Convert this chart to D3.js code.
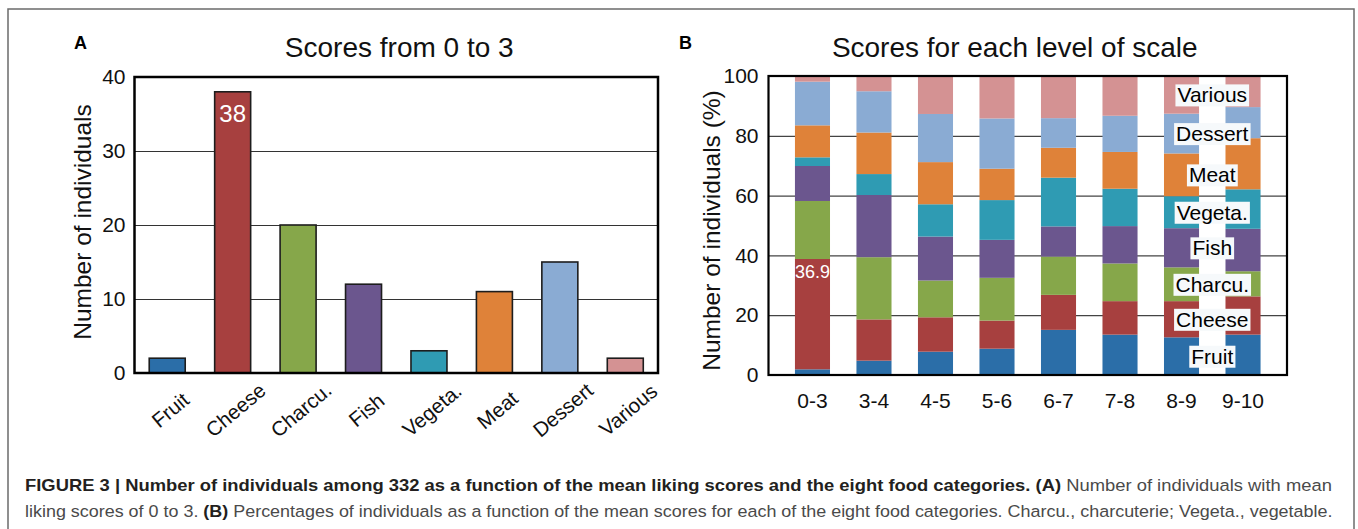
<!DOCTYPE html>
<html><head><meta charset="utf-8">
<script src="https://cdn.jsdelivr.net/npm/d3@7"></script>
<style>
body{margin:0;background:#fff}
svg{display:block}
text{font-family:"Liberation Sans",Arial,Helvetica,sans-serif}
</style>
</head><body>
<svg id="c" width="1358" height="529"></svg>
<script>
// ---- data ----
const categories = ["Fruit","Cheese","Charcu.","Fish","Vegeta.","Meat","Dessert","Various"];
const countsA = [2, 38, 20, 12, 3, 11, 15, 2];           // panel A, scores 0 to 3
const levels = ["0-3","3-4","4-5","5-6","6-7","7-8","8-9","9-10"];
const fruitPct   = [1.9, 4.8, 7.8, 8.8, 15.1, 13.5, 12.6, 13.5];
const cheesePct  = [36.9, 13.8, 11.5, 9.4, 11.7, 11.2, 12.1, 12.8];
const charcuPct  = [19.4, 20.8, 12.3, 14.3, 12.8, 12.6, 11.3, 8.4];
const fishPct    = [11.7, 20.8, 14.7, 12.7, 10.1, 12.5, 13.1, 14.2];
const vegetaPct  = [2.9, 7.0, 10.8, 13.3, 16.3, 12.5, 10.7, 13.2];
const meatPct    = [10.7, 13.9, 14.1, 10.5, 10.0, 12.3, 14.3, 17.1];
const dessertPct = [14.6, 13.8, 16.1, 16.8, 9.9, 12.1, 13.3, 10.4];
const variousPct = [1.9, 5.1, 12.7, 14.2, 14.1, 13.3, 12.6, 10.4];
const ticksA = [0, 10, 20, 30, 40];
const ticksB = [0, 20, 40, 60, 80, 100];
const colors = ["#2b6ea8","#a7403f","#86a74a","#6b568e","#2f9bb3","#df8239","#8aabd3","#d49293"];
const seriesB = [fruitPct, cheesePct, charcuPct, fishPct, vegetaPct, meatPct, dessertPct, variousPct];

const svg = d3.select("#c");
const color = d3.scaleOrdinal().domain(categories).range(colors);
const FF = '"Liberation Sans",Arial,sans-serif';

// outer frame
svg.append("rect").attr("x",8).attr("y",9).attr("width",1346).attr("height",540)
  .attr("fill","none").attr("stroke","#6b6b6b").attr("stroke-width",1.5);

// ================= Panel A =================
const A = {l:134.5, r:658, t:77, b:373};
const xA = d3.scaleBand().domain(categories).range([A.l, A.r]).paddingInner(0.45).paddingOuter(0.225);
const yA = d3.scaleLinear().domain([0, 40]).range([A.b, A.t]);

const gridA = svg.append("g").attr("transform",`translate(${A.l},0)`)
  .call(d3.axisLeft(yA).tickValues(ticksA.slice(1,-1)).tickSize(-(A.r-A.l)).tickFormat(""));
gridA.select(".domain").remove();
gridA.selectAll("line").attr("stroke","#333").attr("stroke-width",1.2);

svg.append("g").selectAll("rect").data(categories).join("rect")
  .attr("x", d => xA(d)).attr("width", xA.bandwidth())
  .attr("y", (d,i) => yA(countsA[i])).attr("height", (d,i) => yA(0) - yA(countsA[i]))
  .attr("fill", d => color(d)).attr("stroke","#1d1d1d").attr("stroke-width",1.6);

svg.append("rect").attr("x",A.l).attr("y",A.t).attr("width",A.r-A.l).attr("height",A.b-A.t)
  .attr("fill","none").attr("stroke","#000").attr("stroke-width",2.5);

const yAxA = svg.append("g").attr("transform",`translate(${A.l},0)`)
  .call(d3.axisLeft(yA).tickValues(ticksA).tickSize(0).tickPadding(9));
yAxA.select(".domain").remove();
yAxA.selectAll("text").attr("font-size",21).attr("fill","#111").style("font-family",FF);

const xAxA = svg.append("g").attr("transform",`translate(0,${A.b})`)
  .call(d3.axisBottom(xA).tickSize(0));
xAxA.select(".domain").remove();
xAxA.selectAll("text").attr("font-size",20.5).attr("fill","#111")
  .style("font-family",FF)
  .attr("text-anchor","middle").attr("y",0).attr("dy","0.35em")
  .attr("transform","translate(3,37) rotate(-40)");

// value label 38
const iCheese = 1;
svg.append("text").attr("x", xA(categories[iCheese]) + xA.bandwidth()/2)
  .attr("y", yA(countsA[iCheese]) + 30).attr("text-anchor","middle")
  .attr("font-size",24).attr("fill","#fff").text(countsA[iCheese]);

svg.append("text").attr("x",(A.l+A.r)/2 + 3).attr("y",57).attr("text-anchor","middle")
  .attr("font-size",28).attr("fill","#111").text("Scores from 0 to 3");
svg.append("text").attr("x",74).attr("y",49).attr("font-size",18).attr("font-weight","bold")
  .attr("fill","#000").text("A");
svg.append("text").attr("transform",`translate(91,${(A.t+A.b)/2 - 3}) rotate(-90)`)
  .attr("text-anchor","middle").attr("font-size",24.5).attr("fill","#111").text("Number of individuals");

// ================= Panel B =================
const B = {l:768.5, r:1287, t:76, b:375};
const xB = d3.scaleBand().domain(levels).range([B.l, B.r]).padding(0.43);
const yB = d3.scaleLinear().domain([0, 100]).range([B.b, B.t]);

const gridB = svg.append("g").attr("transform",`translate(${B.l},0)`)
  .call(d3.axisLeft(yB).tickValues(ticksB.slice(1,-1)).tickSize(-(B.r-B.l)).tickFormat(""));
gridB.select(".domain").remove();
gridB.selectAll("line").attr("stroke","#444").attr("stroke-width",1.2);

const rowsB = levels.map((lv, j) => {
  const o = {level: lv};
  categories.forEach((c, i) => o[c] = seriesB[i][j]);
  return o;
});
const stacked = d3.stack().keys(categories)(rowsB);

svg.append("g").selectAll("g").data(stacked).join("g")
  .attr("fill", d => color(d.key))
  .selectAll("rect").data(d => d).join("rect")
  .attr("x", d => xB(d.data.level)).attr("width", xB.bandwidth())
  .attr("y", d => yB(d[1])).attr("height", d => yB(d[0]) - yB(d[1]));

svg.append("rect").attr("x",B.l).attr("y",B.t).attr("width",B.r-B.l).attr("height",B.b-B.t)
  .attr("fill","none").attr("stroke","#000").attr("stroke-width",2.2);

const yAxB = svg.append("g").attr("transform",`translate(${B.l},0)`)
  .call(d3.axisLeft(yB).tickValues(ticksB).tickSize(0).tickPadding(10));
yAxB.select(".domain").remove();
yAxB.selectAll("text").attr("font-size",21).attr("fill","#111").style("font-family",FF);

const xAxB = svg.append("g").attr("transform",`translate(0,${B.b})`)
  .call(d3.axisBottom(xB).tickSize(0).tickPadding(18));
xAxB.select(".domain").remove();
xAxB.selectAll("text").attr("font-size",21).attr("fill","#111").style("font-family",FF);

// 36.9 label
const first = stacked[1][0];
svg.append("text").attr("x", xB(levels[0]) + xB.bandwidth()/2)
  .attr("y", yB(first[1]) + 19).attr("text-anchor","middle")
  .attr("font-size",18).attr("fill","#fff").text(first.data[categories[1]].toFixed(1));

// category labels between last two columns
const lblX = (xB(levels[6]) + xB.bandwidth() + xB(levels[7])) / 2;
const lblG = svg.append("g");
stacked.forEach(s => {
  const seg = s[6];
  const g = lblG.append("g");
  const t = g.append("text").attr("x", lblX).attr("y", yB((seg[0]+seg[1])/2))
    .attr("text-anchor","middle").attr("dy","0.36em").attr("font-size",21).attr("fill","#000").text(s.key);
  const bb = t.node().getBBox();
  g.insert("rect","text").attr("x",bb.x-2).attr("y",bb.y+1).attr("width",bb.width+4).attr("height",bb.height-1)
    .attr("fill","#f6f9fb");
});

svg.append("text").attr("x",(B.l+B.r)/2 - 13).attr("y",57).attr("text-anchor","middle")
  .attr("font-size",28).attr("fill","#111").text("Scores for each level of scale");
svg.append("text").attr("x",679).attr("y",49).attr("font-size",18).attr("font-weight","bold")
  .attr("fill","#000").text("B");
svg.append("text").attr("transform",`translate(720,${(B.t+B.b)/2 + 5}) rotate(-90)`)
  .attr("text-anchor","middle").attr("font-size",24.5).attr("fill","#111").text("Number of individuals (%)");

// ================= Caption =================
function captionLine(y, parts, target){
  const t = svg.append("text").attr("x",0).attr("y",0).attr("font-size",16.5);
  parts.forEach(p => t.append("tspan").attr("font-weight", p[1] ? "bold" : "normal")
    .attr("fill", p[1] ? "#231f20" : "#4a4a4a").text(p[0]));
  const w = t.node().getBBox().width;
  t.attr("transform", `translate(25,${y}) scale(${target/w},1)`);
}
captionLine(491, [
  ["FIGURE 3 | Number of individuals among 332 as a function of the mean liking scores and the eight food categories. ", true],
  ["(A)", true],
  [" Number of individuals with mean", false]
], 1307);
captionLine(517, [
  ["liking scores of 0 to 3. ", false],
  ["(B)", true],
  [" Percentages of individuals as a function of the mean scores for each of the eight food categories. Charcu., charcuterie; Vegeta., vegetable.", false]
], 1309);
</script>
</body></html>
